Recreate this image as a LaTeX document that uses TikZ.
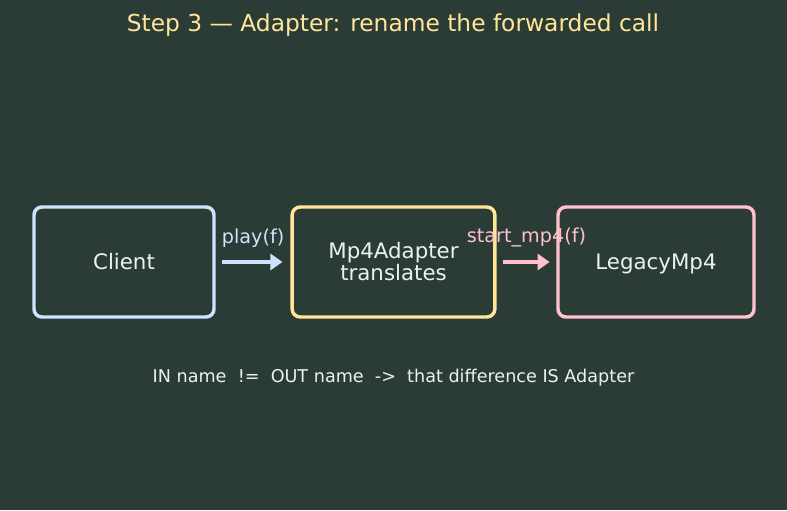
\documentclass[tikz,border=0pt]{standalone}
\usepackage{fontspec}
\setmainfont{DejaVu Sans}
\usetikzlibrary{arrows.meta}

\definecolor{bgcol}{HTML}{2B3B35}
\definecolor{clientcol}{HTML}{CCE5FF}
\definecolor{adaptcol}{HTML}{FFE699}
\definecolor{legacycol}{HTML}{FFC2CC}
\definecolor{txtcol}{HTML}{EEF2EE}

\tikzset{
  box/.style={draw, line width=2.6pt, rounded corners=6pt, fill=bgcol,
    text=txtcol, font=\fontsize{16}{17}\selectfont, align=center,
    minimum height=82.5pt, inner sep=0pt},
  oneline/.style={text height=11.7pt, text depth=0pt},
  callarrow/.style={line width=2.4pt,
    -{Triangle[length=9pt,width=12pt]}},
  calllabel/.style={font=\fontsize{14.4}{15}\selectfont}
}

\begin{document}
\begin{tikzpicture}[x=0.75pt, y=-0.75pt]

% Hintergrund
\fill[bgcol] (0,0) rectangle (787,510);
\useasboundingbox (0,0) rectangle (787,510);

% Titel
\node[text=adaptcol, font=\fontsize{17.5}{19}\selectfont] (title) at (393,25)
  {Step 3 — Adapter: rename the forwarded call};

% Kaesten
\node[box, oneline, draw=clientcol, minimum width=135pt] (client) at (124,262) {Client};
\node[box, draw=adaptcol, minimum width=152pt] (adapter) at (393.5,262)
  {Mp4Adapter\\[-0.5pt]translates};
\node[box, oneline, draw=legacycol, minimum width=147pt] (legacy) at (656,262) {LegacyMp4};

% Aufrufe
\draw[callarrow, draw=clientcol, shorten <=5pt, shorten >=6pt]
  (client.east) -- node[calllabel, text=clientcol, above=6.5pt] {play(f)} (adapter.west);
\draw[callarrow, draw=legacycol, shorten <=5pt, shorten >=5pt]
  (adapter.east) -- node[calllabel, text=legacycol, above=6.5pt] {start\_mp4(f)} (legacy.west);

% Fussnote
\node[text=txtcol, font=\fontsize{13.2}{15}\selectfont] (note) at (393.5,378)
  {IN name\ \ !=\ \ OUT name\ \ ->\ \ that difference IS Adapter};

\end{tikzpicture}
\end{document}
